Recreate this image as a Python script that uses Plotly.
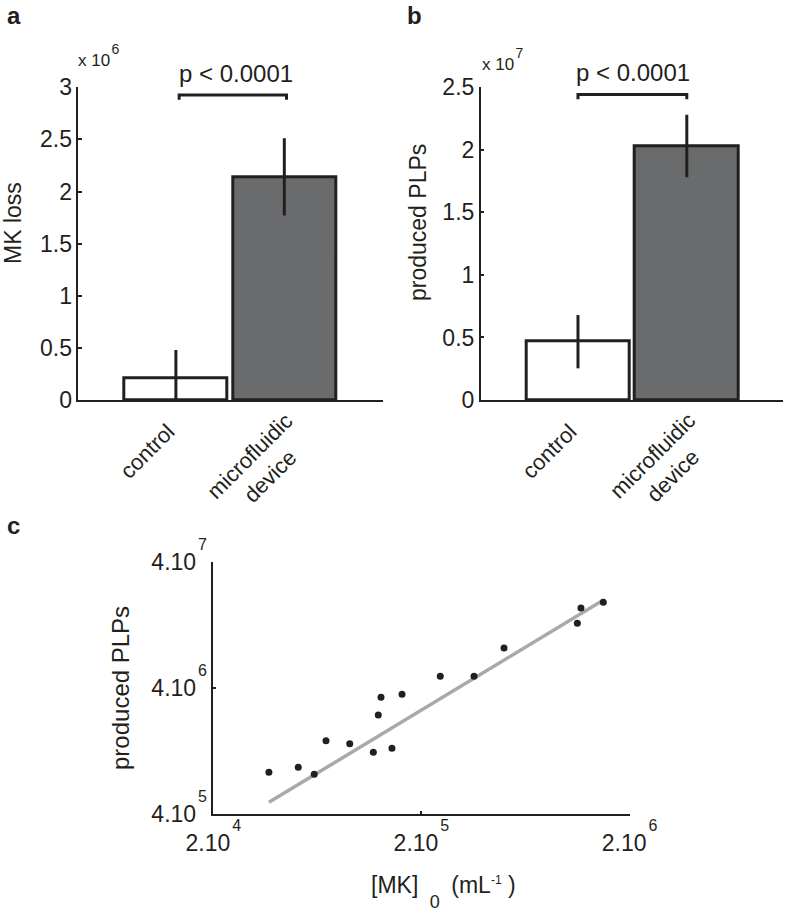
import plotly.graph_objects as go

# ---------------- data ----------------
categories = ["control", "microfluidic<br>device"]
bar_colors = ["#ffffff", "#6a6b6d"]

mk_loss = [0.21e6, 2.14e6]
mk_loss_err = [0.27e6, 0.37e6]

plps = [0.466e7, 2.03e7]
plps_err = [0.213e7, 0.25e7]

p_label = "p < 0.0001"
bracket_a = [2.88e6, 2.925e6]
bracket_b = [2.405e7, 2.442e7]

mk_conc = [3.70e4, 5.12e4, 6.11e4, 6.96e4, 9.05e4, 1.175e5, 1.444e5, 1.241e5,
           1.279e5, 1.614e5, 2.465e5, 3.58e5, 4.99e5, 1.123e6, 1.169e6, 1.497e6]
plps_conc = [8.57e5, 9.39e5, 8.26e5, 1.527e6, 1.445e6, 1.235e6, 1.329e6, 2.443e6,
             3.375e6, 3.565e6, 4.95e6, 4.95e6, 8.31e6, 1.305e7, 1.726e7, 1.915e7]
fit_x = [3.70e4, 1.50e6]
fit_y = [4.95e5, 2.0e7]

a_ticks = [0, 0.5e6, 1e6, 1.5e6, 2e6, 2.5e6, 3e6]
a_ticktext = ["0", "0.5", "1", "1.5", "2", "2.5", "3"]
b_ticks = [0, 0.5e7, 1e7, 1.5e7, 2e7, 2.5e7]
b_ticktext = ["0", "0.5", "1", "1.5", "2", "2.5"]
c_xticks = [2e4, 2e5, 2e6]
c_xtick_mant = ["2.10", "2.10", "2.10"]
c_xtick_exp = ["4", "5", "6"]
c_yticks = [4e5, 4e6, 4e7]
c_ytick_mant = ["4.10", "4.10", "4.10"]
c_ytick_exp = ["5", "6", "7"]

# ---------------- style ----------------
INK = "#231f20"
FONT = "Liberation Sans, Arial, Helvetica, sans-serif"
W, H = 787, 915
pos = [i + 1 for i in range(len(categories))]
# placement of rotated category labels: (pixel shift along x, label centre y in px)
cat_label_place = [(-29, 451), (-24, 466)]


def px_x(v):
    return v / W


def px_y(v):
    return 1 - v / H


def expo(mant, e, size=16, shift=20):
    return (mant + "\u200a<span style='font-size:%dpx;baseline-shift:%dpx'>%s</span>"
            % (size, shift, e))


fig = go.Figure()

# panel a bars
fig.add_trace(go.Bar(
    x=pos, y=mk_loss, width=0.95,
    marker=dict(color=bar_colors, line=dict(color=INK, width=3)),
    error_y=dict(type="data", array=mk_loss_err, thickness=3, width=0, color=INK),
    xaxis="x", yaxis="y", hoverinfo="skip"))
fig.add_trace(go.Scatter(
    x=[pos[0] + 0.03, pos[0] + 0.03, pos[1] + 0.02, pos[1] + 0.02],
    y=[bracket_a[0], bracket_a[1], bracket_a[1], bracket_a[0]],
    mode="lines", line=dict(color=INK, width=3), xaxis="x", yaxis="y"))

# panel b bars
fig.add_trace(go.Bar(
    x=pos, y=plps, width=0.95,
    marker=dict(color=bar_colors, line=dict(color=INK, width=3)),
    error_y=dict(type="data", array=plps_err, thickness=3, width=0, color=INK),
    xaxis="x2", yaxis="y2", hoverinfo="skip"))
fig.add_trace(go.Scatter(
    x=[pos[0], pos[0], pos[1], pos[1]],
    y=[bracket_b[0], bracket_b[1], bracket_b[1], bracket_b[0]],
    mode="lines", line=dict(color=INK, width=3), xaxis="x2", yaxis="y2"))

# panel c
fig.add_trace(go.Scatter(
    x=fit_x, y=fit_y, mode="lines", line=dict(color="#a7a9ac", width=3.5),
    xaxis="x3", yaxis="y3"))
fig.add_trace(go.Scatter(
    x=mk_conc, y=plps_conc, mode="markers",
    marker=dict(color=INK, size=7), xaxis="x3", yaxis="y3"))

axis_common = dict(showline=True, linecolor=INK, linewidth=1.5, showgrid=False,
                   zeroline=False, automargin=False,
                   tickfont=dict(family=FONT, size=23, color=INK),
                   tickcolor=INK, tickwidth=1.5)

fig.update_layout(
    template="none",
    width=W, height=H, margin=dict(l=0, r=0, t=0, b=0, pad=0),
    paper_bgcolor="white", plot_bgcolor="white", showlegend=False,
    font=dict(family=FONT, color=INK),
    bargap=0,
    xaxis=dict(axis_common, domain=[px_x(78.3), px_x(383)], anchor="y",
               range=[0.1, 2.91], tickvals=pos, showticklabels=False, ticks=""),
    yaxis=dict(axis_common, domain=[px_y(400), px_y(87.3)], anchor="x",
               range=[0, 3e6], tickvals=a_ticks, ticktext=a_ticktext,
               ticks="inside", ticklen=4),
    xaxis2=dict(axis_common, domain=[px_x(480.7), px_x(783)], anchor="y2",
                range=[0.106, 2.884], tickvals=pos, showticklabels=False, ticks=""),
    yaxis2=dict(axis_common, domain=[px_y(400), px_y(87.3)], anchor="x2",
                range=[0, 2.5e7], tickvals=b_ticks, ticktext=b_ticktext,
                ticks="inside", ticklen=4),
    xaxis3=dict(axis_common, domain=[px_x(213.3), px_x(629.5)], anchor="y3",
                type="log", range=[4.30103, 6.30103], tickvals=c_xticks,
                ticktext=[expo(m, e) for m, e in zip(c_xtick_mant, c_xtick_exp)],
                ticks="inside", ticklen=3, ticklabelstandoff=8),
    yaxis3=dict(axis_common, domain=[px_y(814), px_y(562)], anchor="x3",
                type="log", range=[5.60206, 7.60206], tickvals=c_yticks,
                ticktext=[expo(m, e) for m, e in zip(c_ytick_mant, c_ytick_exp)],
                ticks="inside", ticklen=3),
)

ann = []


def add_text(text, x, y, size=23, bold=False, angle=0, xanchor="center", yanchor="middle"):
    if bold:
        text = "<b>" + text + "</b>"
    ann.append(dict(text=text, x=px_x(x), y=px_y(y), xref="paper", yref="paper",
                    showarrow=False, textangle=angle, xanchor=xanchor, yanchor=yanchor,
                    borderpad=0,
                    font=dict(family=FONT, size=size, color=INK)))


# category labels (rotated), one per bar position in each bar panel
for xref in ["x", "x2"]:
    for p, cat, (dx, cy) in zip(pos, categories, cat_label_place):
        ann.append(dict(text=cat, x=p, xref=xref, y=px_y(cy), yref="paper",
                        xshift=dx, showarrow=False, textangle=-45, align="center",
                        xanchor="center", yanchor="middle", borderpad=0,
                        font=dict(family=FONT, size=22, color=INK)))

add_text("a", 6, 15, size=24, bold=True, xanchor="left")
add_text("b", 406, 15, size=24, bold=True, xanchor="left")
add_text("c", 6, 525, size=24, bold=True, xanchor="left")
add_text("x 10\u200a<span style='font-size:14px;baseline-shift:12px'>6</span>",
         77, 56, size=17, xanchor="left")
add_text("x 10\u200a<span style='font-size:14px;baseline-shift:12px'>7</span>",
         481, 60, size=17, xanchor="left")
add_text(p_label, 236, 73.5, size=24)
add_text(p_label, 633, 72, size=24)
add_text("MK loss", 13, 223, angle=-90)
add_text("produced PLPs", 418, 222, angle=-90)
add_text("produced PLPs", 120, 688, angle=-90, size=24)
add_text("[MK]\u2002<span style='font-size:18px;baseline-shift:-15px'>0</span>"
         "\u2002(mL<span style='font-size:12px;baseline-shift:9px'>-1</span> )",
         444, 892, size=23)
fig.update_layout(annotations=ann)

fig.write_html("out.html",
               config={"displayModeBar": False},
               post_script="document.body.style.margin='0';"
                           "document.body.style.overflow='hidden';")
